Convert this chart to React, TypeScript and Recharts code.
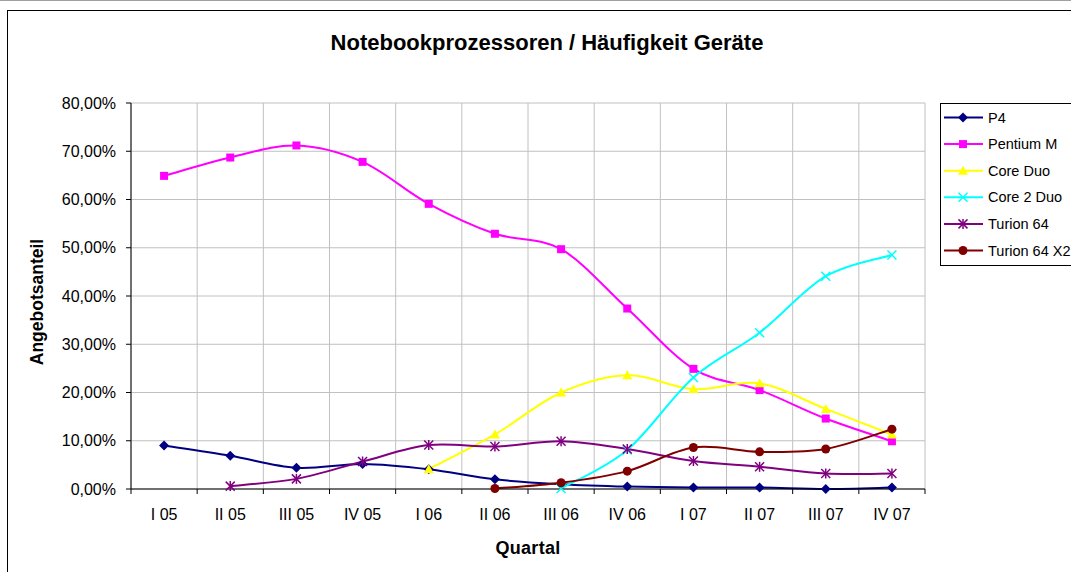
import React from 'react';
import { LineChart, Line, XAxis, YAxis, CartesianGrid } from 'recharts';

const quarters = ['I 05', 'II 05', 'III 05', 'IV 05', 'I 06', 'II 06', 'III 06', 'IV 06', 'I 07', 'II 07', 'III 07', 'IV 07'];
const p4 = [9.0, 6.9, 4.4, 5.2, 4.1, 2.0, 1.0, 0.5, 0.3, 0.3, 0.0, 0.3];
const pentiumM = [64.9, 68.7, 71.2, 67.8, 59.1, 52.9, 49.7, 37.4, 24.9, 20.5, 14.6, 9.9];
const coreDuo = [null, null, null, null, 4.1, 11.3, 20.0, 23.6, 20.7, 21.9, 16.6, 11.3];
const core2Duo = [null, null, null, null, null, null, 0.1, 8.1, 23.1, 32.4, 44.1, 48.5];
const turion64 = [null, 0.6, 2.1, 5.7, 9.1, 8.8, 9.9, 8.3, 5.8, 4.6, 3.2, 3.2];
const turion64X2 = [null, null, null, null, null, 0.1, 1.3, 3.7, 8.6, 7.7, 8.3, 12.4];
const yTicks = [0, 10, 20, 30, 40, 50, 60, 70, 80];

const seriesDefs = [
  { key: 'p4', name: 'P4', values: p4, color: '#000080', marker: 'diamond' },
  { key: 'pentiumM', name: 'Pentium M', values: pentiumM, color: '#FF00FF', marker: 'square' },
  { key: 'coreDuo', name: 'Core Duo', values: coreDuo, color: '#FFFF00', marker: 'triangle' },
  { key: 'core2Duo', name: 'Core 2 Duo', values: core2Duo, color: '#00FFFF', marker: 'x' },
  { key: 'turion64', name: 'Turion 64', values: turion64, color: '#800080', marker: 'star' },
  { key: 'turion64X2', name: 'Turion 64 X2', values: turion64X2, color: '#800000', marker: 'circle' },
];

const data = quarters.map((q, i) => {
  const row: any = { x: i + 0.5, q };
  seriesDefs.forEach((s) => {
    row[s.key] = s.values[i];
  });
  return row;
});

// Excel-like smoothing (uniform Catmull-Rom as cubic Bezier)
function excelSmooth(context: any) {
  let pts: number[][] = [];
  return {
    areaStart() {},
    areaEnd() {},
    lineStart() {
      pts = [];
    },
    point(x: number, y: number) {
      pts.push([+x, +y]);
    },
    lineEnd() {
      const n = pts.length;
      if (n === 0) return;
      context.moveTo(pts[0][0], pts[0][1]);
      for (let i = 0; i < n - 1; i++) {
        const p0 = pts[i - 1] || pts[i];
        const p1 = pts[i];
        const p2 = pts[i + 1];
        const p3 = pts[i + 2] || pts[i + 1];
        const c1x = p1[0] + (p2[0] - p0[0]) / 6;
        const c1y = p1[1] + (p2[1] - p0[1]) / 6;
        const c2x = p2[0] - (p3[0] - p1[0]) / 6;
        const c2y = p2[1] - (p3[1] - p1[1]) / 6;
        context.bezierCurveTo(c1x, c1y, c2x, c2y, p2[0], p2[1]);
      }
    },
  };
}

function Marker({ type, cx, cy, color }: any) {
  if (cx == null || cy == null || isNaN(cx) || isNaN(cy)) return <g />;
  switch (type) {
    case 'diamond':
      return <polygon points={`${cx},${cy - 5} ${cx + 5},${cy} ${cx},${cy + 5} ${cx - 5},${cy}`} fill={color} />;
    case 'square':
      return <rect x={cx - 4} y={cy - 4} width={8} height={8} fill={color} />;
    case 'triangle':
      return <polygon points={`${cx},${cy - 5} ${cx + 5},${cy + 4} ${cx - 5},${cy + 4}`} fill={color} />;
    case 'x':
      return (
        <g stroke={color} strokeWidth={1.5}>
          <line x1={cx - 4.5} y1={cy - 4.5} x2={cx + 4.5} y2={cy + 4.5} />
          <line x1={cx - 4.5} y1={cy + 4.5} x2={cx + 4.5} y2={cy - 4.5} />
        </g>
      );
    case 'star':
      return (
        <g stroke={color} strokeWidth={1.5}>
          <line x1={cx - 4.5} y1={cy - 4.5} x2={cx + 4.5} y2={cy + 4.5} />
          <line x1={cx - 4.5} y1={cy + 4.5} x2={cx + 4.5} y2={cy - 4.5} />
          <line x1={cx} y1={cy - 5} x2={cx} y2={cy + 5} />
        </g>
      );
    case 'circle':
      return <circle cx={cx} cy={cy} r={4.5} fill={color} />;
    default:
      return <g />;
  }
}

const FONT = '"Liberation Sans", Arial, sans-serif';

function LegendBox() {
  return (
    <svg width={140} height={164} style={{ position: 'absolute', left: 940, top: 103 }}>
      <rect x={0.5} y={0.5} width={150} height={162} fill="#fff" stroke="#000" strokeWidth={1} />
      {seriesDefs.map((s, i) => {
        const y = 14.5 + i * 26.6;
        return (
          <g key={s.key}>
            <line x1={4} y1={y} x2={43} y2={y} stroke={s.color} strokeWidth={2} />
            <Marker type={s.marker} cx={23} cy={y} color={s.color} />
            <text x={48} y={y + 5} fontSize={14.5} fontFamily={FONT} fill="#000">
              {s.name}
            </text>
          </g>
        );
      })}
    </svg>
  );
}

export default function App() {
  return (
    <div style={{ position: 'absolute', left: 0, top: 0, width: 1071, height: 572, overflow: 'hidden', background: '#fff', fontFamily: FONT }}>
      <div style={{ position: 'absolute', left: 0, top: 0, width: 1071, height: 1, background: '#A0A0A0' }} />
      <div style={{ position: 'absolute', left: 7, top: 10, width: 1100, height: 600, border: '1px solid #000', boxSizing: 'border-box' }} />
      <LineChart
        width={1071}
        height={572}
        data={data}
        margin={{ top: 103, right: 146, bottom: 53, left: 0 }}
        style={{ position: 'absolute', left: 0, top: 0, fontFamily: FONT }}
      >
        <CartesianGrid xAxisId={0} stroke="#C0C0C0" strokeWidth={1} />
        <XAxis
          xAxisId={0}
          dataKey="x"
          type="number"
          domain={[0, 12]}
          ticks={[0, 1, 2, 3, 4, 5, 6, 7, 8, 9, 10, 11, 12]}
          tickFormatter={() => ''}
          tickSize={5}
          height={5}
          axisLine={{ stroke: '#000' }}
          tickLine={{ stroke: '#000' }}
          allowDataOverflow
        />
        <XAxis
          xAxisId={1}
          dataKey="x"
          type="number"
          domain={[0, 12]}
          ticks={quarters.map((_, i) => i + 0.5)}
          tickFormatter={(v: number) => quarters[Math.round(v - 0.5)]}
          tickSize={0}
          tickMargin={15}
          height={25}
          axisLine={false}
          tickLine={false}
          interval={0}
          tick={{ fill: '#000', fontSize: 16, fontFamily: FONT }}
          allowDataOverflow
        />
        <YAxis
          type="number"
          domain={[0, 80]}
          ticks={yTicks}
          width={131}
          tickSize={5}
          tickMargin={10}
          tickFormatter={(v: number) => v.toFixed(2).replace('.', ',') + '%'}
          axisLine={{ stroke: '#000' }}
          tickLine={{ stroke: '#000' }}
          tick={{ fill: '#000', fontSize: 16, fontFamily: FONT }}
          interval={0}
        />
        {seriesDefs.map((s) => (
          <Line
            key={s.key}
            xAxisId={0}
            dataKey={s.key}
            name={s.name}
            type={excelSmooth as any}
            stroke={s.color}
            strokeWidth={2}
            isAnimationActive={false}
            connectNulls={false}
            dot={(props: any) => <Marker key={`${s.key}-${props.index}`} type={s.marker} cx={props.cx} cy={props.value == null ? null : props.cy} color={s.color} />}
            activeDot={false}
          />
        ))}
      </LineChart>
      <div style={{ position: 'absolute', left: 0, width: 1094, top: 29, height: 28, lineHeight: '28px', textAlign: 'center', fontWeight: 'bold', fontSize: 22, color: '#000' }}>
        Notebookprozessoren / Häufigkeit Geräte
      </div>
      <div style={{ position: 'absolute', left: 37, top: 302, transform: 'translate(-50%, -50%) rotate(-90deg)', whiteSpace: 'nowrap', fontWeight: 'bold', fontSize: 17.5, color: '#000' }}>
        Angebotsanteil
      </div>
      <div style={{ position: 'absolute', left: 528, top: 548, transform: 'translate(-50%, -50%)', whiteSpace: 'nowrap', fontWeight: 'bold', fontSize: 18, letterSpacing: 0.3, color: '#000' }}>
        Quartal
      </div>
      <LegendBox />
    </div>
  );
}
